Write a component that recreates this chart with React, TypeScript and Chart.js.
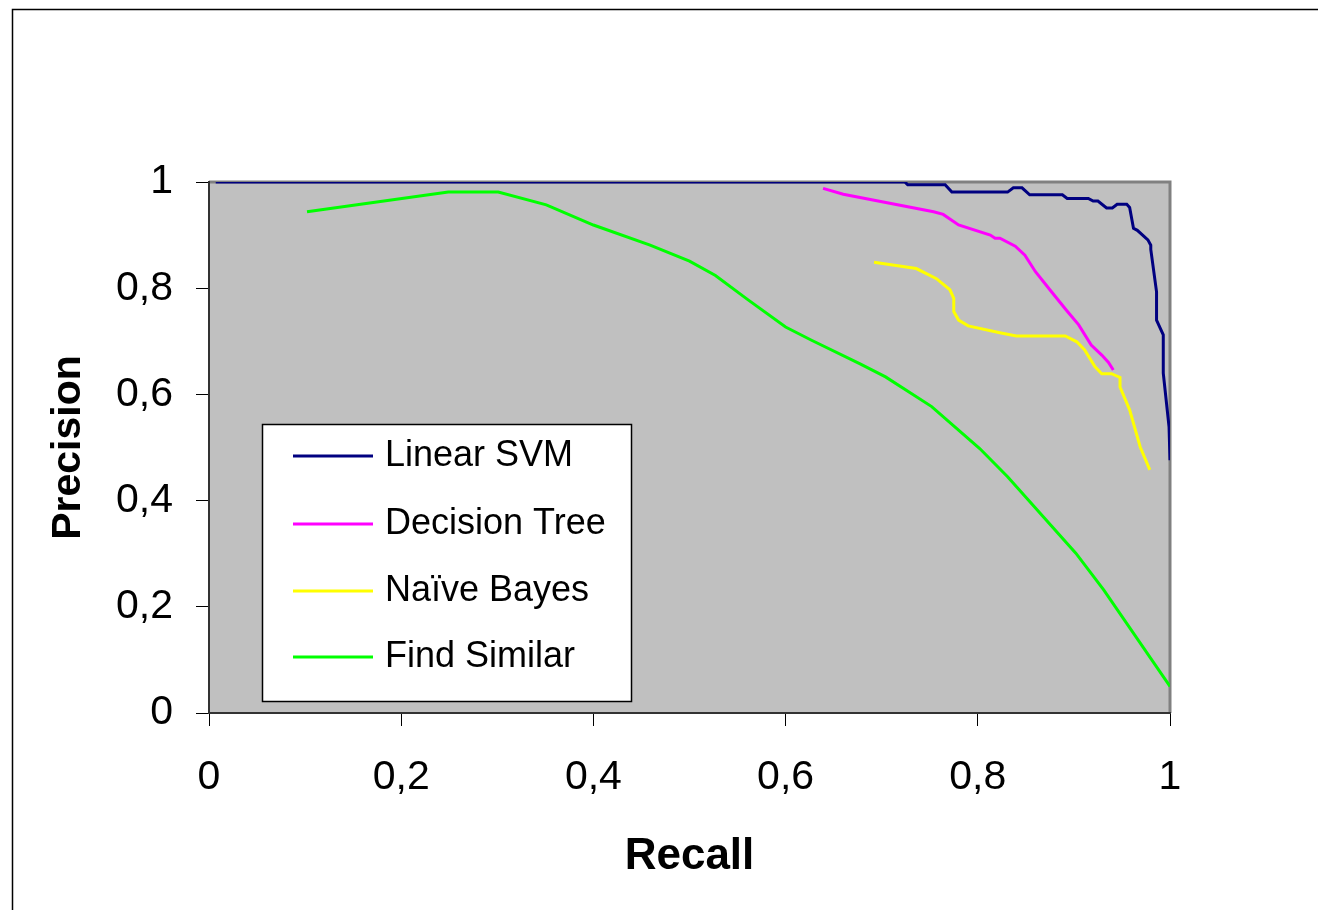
import React, { useEffect, useRef } from "react";
import { Chart, registerables } from "chart.js";

Chart.register(...registerables);

// ---- Data ----
const seriesNames = ["Linear SVM", "Decision Tree", "Naïve Bayes", "Find Similar"];
const seriesColors = ["#000080", "#FF00FF", "#FFFF00", "#00FF00"];
const tickValues = [0, 0.2, 0.4, 0.6, 0.8, 1];

const svmRecall = [0.007, 0.724, 0.727, 0.766, 0.773, 0.831, 0.837, 0.846, 0.854, 0.888, 0.893, 0.915, 0.92, 0.925, 0.934, 0.94, 0.945, 0.955, 0.958, 0.962, 0.966, 0.977, 0.98, 0.98, 0.986, 0.986, 0.993, 0.993, 0.999, 1.0];
const svmPrecision = [1, 1, 0.995, 0.995, 0.981, 0.981, 0.989, 0.989, 0.976, 0.976, 0.969, 0.969, 0.964, 0.964, 0.951, 0.951, 0.958, 0.958, 0.952, 0.913, 0.909, 0.891, 0.881, 0.873, 0.793, 0.74, 0.712, 0.64, 0.539, 0.476];

const treeRecall = [0.639, 0.66, 0.754, 0.764, 0.78, 0.813, 0.818, 0.823, 0.839, 0.849, 0.86, 0.875, 0.892, 0.905, 0.918, 0.929, 0.936, 0.941];
const treePrecision = [0.988, 0.977, 0.944, 0.939, 0.919, 0.9, 0.894, 0.894, 0.879, 0.862, 0.831, 0.797, 0.759, 0.731, 0.693, 0.674, 0.66, 0.646];

const bayesRecall = [0.692, 0.736, 0.757, 0.771, 0.775, 0.775, 0.78, 0.79, 0.823, 0.84, 0.891, 0.903, 0.911, 0.922, 0.929, 0.939, 0.948, 0.948, 0.958, 0.969, 0.979];
const bayesPrecision = [0.849, 0.837, 0.818, 0.797, 0.781, 0.756, 0.74, 0.729, 0.716, 0.71, 0.71, 0.699, 0.684, 0.652, 0.639, 0.639, 0.632, 0.614, 0.571, 0.501, 0.458];

const similarRecall = [0.102, 0.249, 0.301, 0.351, 0.4, 0.459, 0.5, 0.527, 0.561, 0.6, 0.627, 0.677, 0.704, 0.752, 0.802, 0.831, 0.902, 0.931, 1.0];
const similarPrecision = [0.944, 0.981, 0.981, 0.957, 0.919, 0.881, 0.851, 0.824, 0.778, 0.727, 0.702, 0.658, 0.633, 0.577, 0.498, 0.445, 0.301, 0.232, 0.05];

const recallSeries = [svmRecall, treeRecall, bayesRecall, similarRecall];
const precisionSeries = [svmPrecision, treePrecision, bayesPrecision, similarPrecision];

const FONT = "'Liberation Sans', Arial, Helvetica, sans-serif";

const fmt = (v: number) => String(Math.round(v * 10) / 10).replace(".", ",");

const backgroundPlugin = {
  id: "bgPlugin",
  beforeDraw(chart: any) {
    const { ctx, chartArea, width, height } = chart;
    ctx.save();
    ctx.fillStyle = "#FFFFFF";
    ctx.fillRect(0, 0, width, height);
    // outer frame (top and left visible)
    ctx.strokeStyle = "#000000";
    ctx.lineWidth = 1.5;
    ctx.beginPath();
    ctx.moveTo(12.5, height);
    ctx.lineTo(12.5, 9.5);
    ctx.lineTo(width, 9.5);
    ctx.stroke();
    // plot area
    ctx.fillStyle = "#C0C0C0";
    ctx.fillRect(chartArea.left, chartArea.top, chartArea.right - chartArea.left, chartArea.bottom - chartArea.top);
    ctx.strokeStyle = "#808080";
    ctx.lineWidth = 3;
    ctx.beginPath();
    ctx.moveTo(chartArea.left, chartArea.top);
    ctx.lineTo(chartArea.right, chartArea.top);
    ctx.lineTo(chartArea.right, chartArea.bottom);
    ctx.stroke();
    ctx.restore();
  },
};

const legendBoxPlugin = {
  id: "legendBox",
  afterDraw(chart: any) {
    const { ctx } = chart;
    const box = { x: 262, y: 424, w: 369, h: 277 };
    ctx.save();
    ctx.fillStyle = "#FFFFFF";
    ctx.fillRect(box.x, box.y, box.w, box.h);
    ctx.strokeStyle = "#000000";
    ctx.lineWidth = 1.5;
    ctx.strokeRect(box.x + 0.5, box.y + 0.5, box.w, box.h);
    const rowY = [456, 524, 591, 657];
    ctx.font = `36px ${FONT}`;
    ctx.textBaseline = "middle";
    ctx.textAlign = "left";
    chart.data.datasets.forEach((ds: any, i: number) => {
      const y = rowY[i];
      ctx.strokeStyle = ds.borderColor;
      ctx.lineWidth = 3;
      ctx.beginPath();
      ctx.moveTo(293, y);
      ctx.lineTo(373, y);
      ctx.stroke();
      ctx.fillStyle = "#000000";
      ctx.fillText(ds.label, 385, y);
    });
    ctx.restore();
  },
};

export default function App() {
  const canvasRef = useRef<HTMLCanvasElement | null>(null);

  useEffect(() => {
    if (!canvasRef.current) return;
    const datasets = seriesNames.map((name, i) => ({
      label: name,
      data: recallSeries[i].map((r, j) => ({ x: r, y: precisionSeries[i][j] })),
      borderColor: seriesColors[i],
      backgroundColor: seriesColors[i],
      borderWidth: 3,
      pointRadius: 0,
      tension: 0,
      fill: false,
    }));

    const chart = new Chart(canvasRef.current, {
      type: "line",
      data: { datasets },
      options: {
        animation: false,
        responsive: false,
        devicePixelRatio: 1,
        layout: { padding: { left: 0, top: 182, right: 148, bottom: 0 } },
        plugins: {
          legend: { display: false },
          tooltip: { enabled: false },
        },
        scales: {
          x: {
            type: "linear",
            min: 0,
            max: 1,
            afterFit: (scale: any) => {
              scale.height = 197;
            },
            afterBuildTicks: (scale: any) => {
              scale.ticks = tickValues.map((v) => ({ value: v }));
            },
            ticks: {
              callback: (v: any) => fmt(Number(v)),
              font: { family: FONT, size: 41, lineHeight: 1.2 },
              color: "#000000",
              padding: 27,
              maxRotation: 0,
            },
            grid: {
              drawOnChartArea: false,
              drawTicks: true,
              tickLength: 13,
              color: "#000000",
              lineWidth: 1,
            },
            border: { display: true, color: "#333333", width: 2 },
            title: {
              display: true,
              text: "Recall",
              color: "#000000",
              font: { family: FONT, size: 44, weight: "bold", lineHeight: 1.2 },
              padding: { top: 0, bottom: 27 },
            },
          },
          y: {
            type: "linear",
            min: 0,
            max: 1,
            afterFit: (scale: any) => {
              scale.width = 209;
            },
            afterBuildTicks: (scale: any) => {
              scale.ticks = tickValues.map((v) => ({ value: v }));
            },
            ticks: {
              callback: (v: any) => fmt(Number(v)),
              font: { family: FONT, size: 41, lineHeight: 1.2 },
              color: "#000000",
              padding: 23,
            },
            grid: {
              drawOnChartArea: false,
              drawTicks: true,
              tickLength: 13,
              color: "#000000",
              lineWidth: 1,
            },
            border: { display: true, color: "#333333", width: 2 },
            title: {
              display: true,
              text: "Precision",
              color: "#000000",
              font: { family: FONT, size: 41, weight: "bold", lineHeight: 1.2 },
              padding: { top: 44, bottom: 0 },
            },
          },
        },
      } as any,
      plugins: [backgroundPlugin, legendBoxPlugin],
    });

    return () => chart.destroy();
  }, []);

  return (
    <div style={{ position: "fixed", left: 0, top: 0, width: 1318, height: 910, background: "#fff" }}>
      <canvas ref={canvasRef} width={1318} height={910} style={{ display: "block", width: 1318, height: 910 }} />
    </div>
  );
}
